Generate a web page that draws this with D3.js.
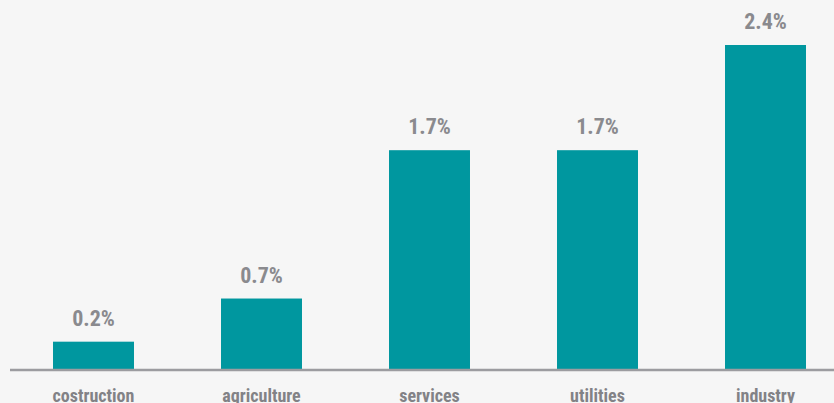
<!DOCTYPE html>
<html><head><meta charset="utf-8">
<script src="https://cdn.jsdelivr.net/npm/d3@7"></script>
<style>html,body{margin:0;padding:0;background:#f6f6f6;overflow:hidden}</style>
</head><body><svg id="c" width="834" height="403"></svg>
<script>
const categories = ["costruction","agriculture","services","utilities","industry"];
const values = [0.21, 0.53, 1.63, 1.63, 2.41];
const valueLabels = ["0.2%","0.7%","1.7%","1.7%","2.4%"];

const svg = d3.select("#c");
const W = 834, H = 403;
const FONT = "'Liberation Sans Narrow','Arial Narrow','Roboto Condensed',sans-serif";
svg.append("rect").attr("width",W).attr("height",H).attr("fill","#f6f6f6");
const baseY = 370;
const x = d3.scaleBand().domain(categories).range([9.5, 849.5]).paddingInner(0.518).paddingOuter(0.259);
const y = d3.scaleLinear().domain([0, 2.41]).range([baseY, 45]);

svg.selectAll("rect.bar").data(categories).enter().append("rect")
  .attr("class","bar")
  .attr("x", d => x(d)).attr("width", x.bandwidth())
  .attr("y", (d,i) => y(values[i])).attr("height", (d,i) => baseY - y(values[i]))
  .attr("fill","#00979f");

svg.append("line").attr("x1",10).attr("x2",834).attr("y1",baseY).attr("y2",baseY)
  .attr("stroke","#9c9ca0").attr("stroke-width",2.5);

svg.selectAll("text.val").data(categories).enter().append("text")
  .attr("x", d => x(d) + x.bandwidth()/2)
  .attr("y", (d,i) => y(values[i]) - 16)
  .attr("text-anchor","middle")
  .attr("font-family",FONT).attr("font-weight","bold")
  .attr("font-size",22).attr("fill","#8a8a8e")
  .text((d,i) => valueLabels[i]);

svg.selectAll("text.cat").data(categories).enter().append("text")
  .attr("x", d => x(d) + x.bandwidth()/2)
  .attr("y", 402)
  .attr("text-anchor","middle")
  .attr("font-family",FONT).attr("font-weight","bold")
  .attr("font-size",18).attr("fill","#828286")
  .text(d => d);
</script></body></html>
